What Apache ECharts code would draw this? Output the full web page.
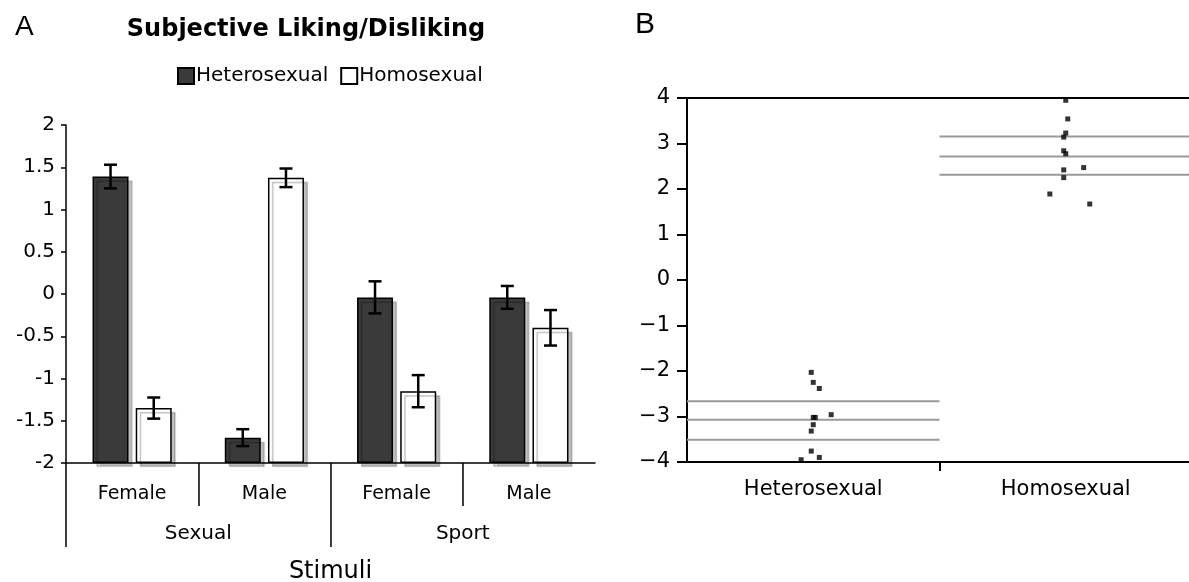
<!DOCTYPE html>
<html>
<head>
<meta charset="utf-8">
<script src="https://cdn.jsdelivr.net/npm/echarts@6/dist/echarts.min.js"></script>
<style>
  html, body { margin: 0; padding: 0; background: #fff; }
  #chart { width: 1189px; height: 582px; }
</style>
</head>
<body>
<div id="chart"></div>
<script>
// ---- Panel A: mean liking/disliking ratings (± SE) per stimulus category ----
const stimulusGenders = ['Female', 'Male', 'Female', 'Male'];
const stimulusTypes = ['Sexual', 'Sport'];
const heteroMeans = [1.39, -1.70, -0.04, -0.04];
const heteroErrors = [0.14, 0.10, 0.19, 0.135];
const homoMeans = [-1.35, 1.375, -1.15, -0.40];
const homoErrors = [0.125, 0.11, 0.19, 0.21];

// ---- Panel B: individual scores per group, with mean and confidence band ----
const groupNames = ['Heterosexual', 'Homosexual'];
const heteroScores = [-2.03, -2.25, -2.385, -3.02, -3.02, -2.96, -3.18, -3.32, -3.76, -3.90, -3.95];
const heteroJitter = [-0.008, 0, 0.024, 0, 0.008, 0.071, 0, -0.008, -0.008, 0.024, -0.048];
const homoScores = [3.95, 3.54, 3.23, 3.14, 2.84, 2.775, 2.47, 2.42, 2.25, 1.89, 1.67];
const homoJitter = [0, 0.008, 0, -0.008, -0.008, 0, 0.071, -0.008, -0.008, -0.063, 0.095];
const heteroBand = [-2.665, -3.07, -3.51];
const homoBand = [3.156, 2.716, 2.313];

const FONT = 'DejaVu Sans';
const BAR_W = 36;
const BAR_GAP = 0.2;
const barShift = BAR_W * (1 + BAR_GAP) / 2;

function errorBarSeries(name, means, errors, shift) {
  return {
    name: name,
    type: 'custom',
    xAxisIndex: 0,
    yAxisIndex: 0,
    z: 5,
    data: means.map((m, i) => [i, m - errors[i], m + errors[i]]),
    encode: { x: 0, y: [1, 2] },
    renderItem: function (params, api) {
      const cat = api.value(0);
      const lo = api.coord([cat, api.value(1)]);
      const hi = api.coord([cat, api.value(2)]);
      const x = lo[0] + shift;
      const st = { stroke: '#000', lineWidth: 2.5 };
      return {
        type: 'group',
        children: [
          { type: 'line', shape: { x1: x, y1: hi[1], x2: x, y2: lo[1] }, style: st },
          { type: 'line', shape: { x1: x - 6.5, y1: hi[1], x2: x + 6.5, y2: hi[1] }, style: st },
          { type: 'line', shape: { x1: x - 6.5, y1: lo[1], x2: x + 6.5, y2: lo[1] }, style: st }
        ]
      };
    }
  };
}

function bandSeries(catIndex, values) {
  return {
    type: 'custom',
    xAxisIndex: 3,
    yAxisIndex: 1,
    z: 1,
    data: values.map(v => [catIndex, v]),
    encode: { x: 0, y: 1 },
    renderItem: function (params, api) {
      const c = api.value(0);
      const v = api.value(1);
      const p0 = api.coord([c, v]);
      const p1 = api.coord([c + 1, v]);
      return {
        type: 'line',
        shape: { x1: p0[0], y1: p0[1], x2: p1[0], y2: p1[1] },
        style: { stroke: '#9a9a9a', lineWidth: 2 }
      };
    }
  };
}

const barShadow = {
  shadowColor: 'rgba(0,0,0,0.25)',
  shadowOffsetX: 4,
  shadowOffsetY: 4,
  shadowBlur: 1
};

const option = {
  backgroundColor: '#fff',
  animation: false,
  title: [
    { text: 'A', left: 10, top: 8, textStyle: { fontFamily: 'Liberation Sans', fontWeight: 'normal', fontSize: 28, color: '#000' } },
    { text: 'Subjective Liking/Disliking', left: 301, top: 13, textAlign: 'center',
      textStyle: { fontFamily: FONT, fontWeight: 'bold', fontSize: 24, color: '#000' } },
    { text: 'B', left: 630, top: 5, textStyle: { fontFamily: 'Liberation Sans', fontWeight: 'normal', fontSize: 30, color: '#000' } }
  ],
  legend: {
    left: 172,
    top: 61,
    icon: 'rect',
    itemWidth: 16,
    itemHeight: 16,
    itemGap: 12,
    data: ['Heterosexual', 'Homosexual'],
    textStyle: { fontFamily: FONT, fontSize: 20, color: '#000', padding: [0, 0, 0, -3] }
  },
  grid: [
    { left: 66, top: 125, width: 529, height: 338, outerBoundsMode: 'none', containLabel: false },
    { left: 687, top: 98, width: 505, height: 364, outerBoundsMode: 'none', containLabel: false }
  ],
  xAxis: [
    // 0: panel A categories (Female / Male)
    {
      gridIndex: 0, type: 'category', data: stimulusGenders, position: 'bottom',
      axisLine: { onZero: false, lineStyle: { color: '#000', width: 1.5 } },
      axisTick: { show: false },
      axisLabel: { margin: 22, fontFamily: FONT, fontSize: 19, color: '#000' },
      splitLine: { show: false }
    },
    // 1: short dividers between genders
    {
      gridIndex: 0, type: 'value', min: 0, max: 4, position: 'bottom',
      axisLine: { show: false, onZero: false },
      axisTick: { show: true, customValues: [1, 3], length: 43, lineStyle: { color: '#000', width: 1.5 } },
      axisLabel: { show: false },
      splitLine: { show: false }
    },
    // 2: long dividers and stimulus type labels
    {
      gridIndex: 0, type: 'value', min: 0, max: 4, position: 'bottom',
      axisLine: { show: false, onZero: false },
      axisTick: { show: true, customValues: [0, 2], length: 84, lineStyle: { color: '#000', width: 1.5 } },
      axisLabel: {
        show: true, customValues: [1, 3], margin: 61,
        formatter: v => stimulusTypes[Math.round((v - 1) / 2)],
        fontFamily: FONT, fontSize: 20, color: '#000'
      },
      splitLine: { show: false },
      name: 'Stimuli', nameLocation: 'middle', nameGap: 97,
      nameTextStyle: { fontFamily: FONT, fontSize: 24, color: '#000' }
    },
    // 3: panel B group axis
    {
      gridIndex: 1, type: 'value', min: 0, max: 2, position: 'bottom',
      axisLine: { onZero: false, lineStyle: { color: '#000', width: 2 } },
      axisTick: { show: true, customValues: [1], length: 9, lineStyle: { color: '#000', width: 2 } },
      axisLabel: {
        show: true, customValues: [0.5, 1.5], margin: 17,
        formatter: v => groupNames[Math.floor(v)],
        fontFamily: FONT, fontSize: 21, color: '#000'
      },
      splitLine: { show: false }
    },
    // 4: panel B top frame line
    {
      gridIndex: 1, type: 'value', min: 0, max: 2, position: 'top',
      axisLine: { onZero: false, lineStyle: { color: '#000', width: 2 } },
      axisTick: { show: false },
      axisLabel: { show: false },
      splitLine: { show: false }
    }
  ],
  yAxis: [
    {
      gridIndex: 0, type: 'value', min: -2, max: 2, interval: 0.5, startValue: -2,
      axisLine: { show: true, onZero: false, lineStyle: { color: '#000', width: 1.5 } },
      axisTick: { show: true, length: 5, lineStyle: { color: '#000', width: 1.5 } },
      axisLabel: { margin: 11, fontFamily: FONT, fontSize: 20, color: '#000' },
      splitLine: { show: false }
    },
    {
      gridIndex: 1, type: 'value', min: -4, max: 4, interval: 1,
      axisLine: { show: true, onZero: false, lineStyle: { color: '#000', width: 2 } },
      axisTick: { show: true, length: 10, lineStyle: { color: '#000', width: 2 } },
      axisLabel: {
        margin: 17, fontFamily: FONT, fontSize: 21, color: '#000',
        formatter: v => String(v).replace('-', '\u2212')
      },
      splitLine: { show: false }
    }
  ],
  series: [
    {
      name: 'Heterosexual', type: 'bar', xAxisIndex: 0, yAxisIndex: 0,
      data: heteroMeans, barWidth: BAR_W, barGap: (BAR_GAP * 100) + '%',
      itemStyle: Object.assign({ color: '#3a3a3a', borderColor: '#000', borderWidth: 1.5 }, barShadow)
    },
    {
      name: 'Homosexual', type: 'bar', xAxisIndex: 0, yAxisIndex: 0,
      data: homoMeans, barWidth: BAR_W, barGap: (BAR_GAP * 100) + '%',
      itemStyle: Object.assign({ color: '#ffffff', borderColor: '#000', borderWidth: 1.5 }, barShadow)
    },
    errorBarSeries('Heterosexual SE', heteroMeans, heteroErrors, -barShift),
    errorBarSeries('Homosexual SE', homoMeans, homoErrors, barShift),
    bandSeries(0, heteroBand),
    bandSeries(1, homoBand),
    {
      name: 'Heterosexual scores', type: 'scatter', xAxisIndex: 3, yAxisIndex: 1,
      symbol: 'rect', symbolSize: 5, z: 4,
      itemStyle: { color: '#000' },
      data: heteroScores.map((v, i) => [0.5 + heteroJitter[i], v])
    },
    {
      name: 'Homosexual scores', type: 'scatter', xAxisIndex: 3, yAxisIndex: 1,
      symbol: 'rect', symbolSize: 5, z: 4,
      itemStyle: { color: '#000' },
      data: homoScores.map((v, i) => [1.5 + homoJitter[i], v])
    }
  ]
};

const chart = echarts.init(document.getElementById('chart'), null, { renderer: 'canvas' });
chart.setOption(option);
</script>
</body>
</html>
